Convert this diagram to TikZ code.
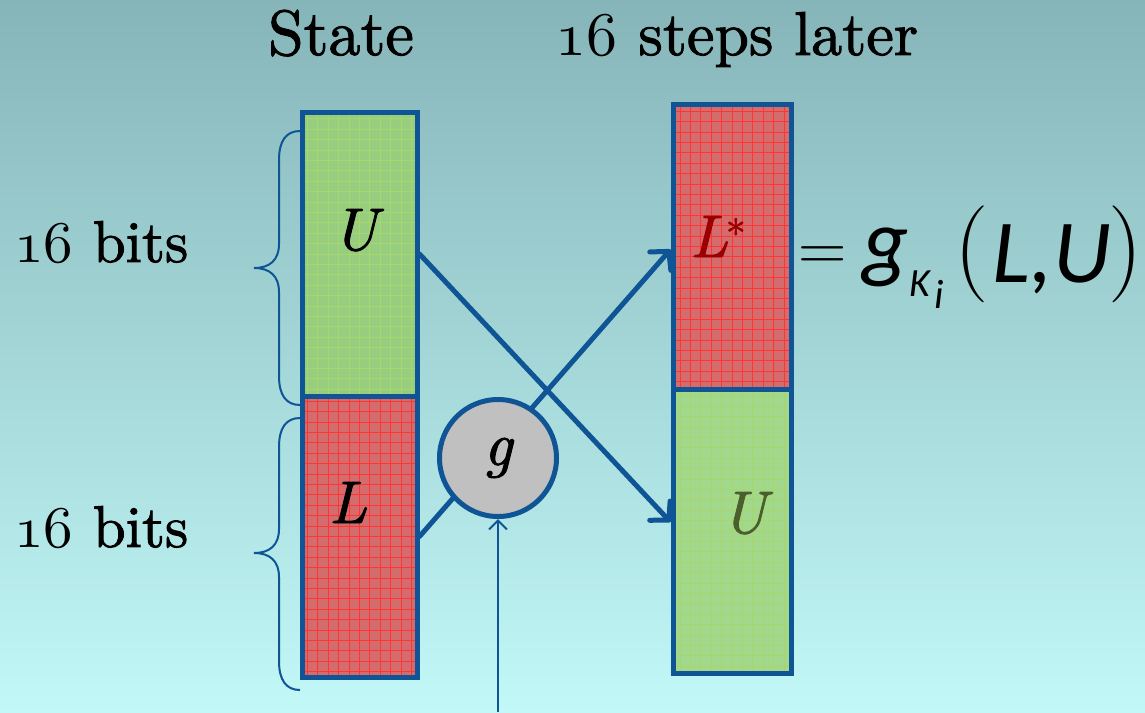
\documentclass[tikz,border=0pt]{standalone}
\usepackage{fontspec}
\newfontfamily\calib{Carlito}
\newfontfamily\headfont{lmroman10-regular}[Extension=.otf,
  ItalicFont=lmroman10-italic, FakeBold=1.5]
\usetikzlibrary{arrows.meta}

% scalable old-style figures taken from the math italic font
\DeclareFontFamily{OML}{osf}{\skewchar\font127 }
\DeclareFontShape{OML}{osf}{m}{it}{<->cmmi10}{}
\newcommand\osf[1]{{\usefont{OML}{osf}{m}{it}#1}}

\definecolor{bgtop}{HTML}{86B5B9}
\definecolor{bgbot}{HTML}{C2F8F7}
\definecolor{bblue}{HTML}{0F5596}
\definecolor{gfill}{HTML}{97CD7E}
\definecolor{gline}{HTML}{A8D66C}
\definecolor{gfillb}{HTML}{A2D88C}
\definecolor{rfill}{HTML}{D46C6E}
\definecolor{rline}{HTML}{FF3535}
\definecolor{lstar}{HTML}{9A0000}
\definecolor{uolive}{HTML}{4B5F2D}
\definecolor{ggray}{HTML}{C0C0C0}

\begin{document}
\begin{tikzpicture}[x=1pt,y=-1pt,
  big/.style={inner sep=0pt, font=\headfont\fontsize{62}{70}\selectfont},
  sym/.style={inner sep=0pt, font=\headfont\itshape\fontsize{60}{64}\selectfont},
  eqi/.style={inner sep=0pt, anchor=base west, font=\calib\itshape\fontsize{90}{96}\selectfont},
  eqr/.style={inner sep=0pt, anchor=base west, font=\rmfamily\fontsize{97}{100}\selectfont},
  bar/.style={draw=bblue, line width=5pt, inner sep=0pt, minimum width=115pt},
  greencell/.style={bar, fill=gfill, path picture={
      \draw[gline, line width=0.9pt] (path picture bounding box.south west)
        grid[step=10.4pt] (path picture bounding box.north east);}},
  redcell/.style={bar, fill=rfill, path picture={
      \draw[rline, line width=0.9pt] (path picture bounding box.south west)
        grid[step=10.4pt] (path picture bounding box.north east);}},
  thick arrow/.style={bblue, line width=5pt, line cap=round,
      -{Straight Barb[length=13pt, width=28pt, round]}},
  thin arrow/.style={bblue, line width=2pt,
      -{Straight Barb[length=9pt, width=18pt]}},
  curly/.style={bblue, line width=2pt},
]
% background
\shade[top color=bgtop, bottom color=bgbot] (0,0) rectangle (1145,712);
\useasboundingbox (0,0) rectangle (1145,712);

% column headings
\node[big, anchor=base, font=\headfont\fontsize{64}{70}\selectfont] (state) at (341,55) {State};
\node[big, anchor=base] (later) at (737,55) {\osf{16} steps later};

% size labels
\node[big, anchor=base west, font=\headfont\fontsize{59}{64}\selectfont] (bitsU) at (14,262) {\osf{16} bits};
\node[big, anchor=base west, font=\headfont\fontsize{59}{64}\selectfont] (bitsL) at (14,547) {\osf{16} bits};

% braces
\draw[curly] (300,131) .. controls (286,131) and (279,141) .. (279,160)
  -- (279,244) .. controls (279,260) and (270,268) .. (254,268)
  .. controls (270,268) and (279,276) .. (279,292)
  -- (279,376) .. controls (279,395) and (286,405) .. (300,405);
\draw[curly] (300,418) .. controls (286,418) and (279,428) .. (279,447)
  -- (279,529) .. controls (279,545) and (270,553) .. (254,553)
  .. controls (270,553) and (279,561) .. (279,577)
  -- (279,661) .. controls (279,680) and (286,690) .. (300,690);

% state register
\node[greencell, minimum height=284pt] (lu) at (359.5,254) {};
\node[redcell, minimum height=281pt] (ll) at (359.5,536.5) {};
% register after 16 steps
\node[redcell, minimum width=118pt, minimum height=285pt] (rl) at (732,246.5) {};
\node[greencell, fill=gfillb, minimum width=118pt, minimum height=284pt] (ru) at (732,531) {};

% half names
\node[sym, anchor=base] (tU) at (355,250) {U};
\node[sym, anchor=base] (tL) at (348,523) {L};
\node[sym, anchor=base west, text=lstar] (tLs) at (690,257)
  {L\kern-2pt\raisebox{9pt}{\fontsize{40}{40}\selectfont\upshape *}};
\node[sym, anchor=base, text=uolive] (tUr) at (744,533) {U};

% data flow
\draw[thick arrow] (lu.east) -- ([yshift=9pt]ru.west);
\draw[thick arrow] (ll.east) -- ([yshift=-3pt]rl.west);

% round function
\node[circle, draw=bblue, line width=5pt, fill=ggray, minimum size=117pt,
      inner sep=0pt, font=\headfont\itshape\fontsize{62}{64}\selectfont] (g) at (498,458) {g};
\coordinate (key) at (498,712);
\draw[thin arrow] (key) -- (g.south);

% formula  L* = g_{K_i}(L,U)
\node[inner sep=0pt, anchor=base west, font=\rmfamily\fontsize{67}{70}\selectfont] (eq) at (798,270) {=};
\node[eqi] (gk) at (862,271) {g};
\node[inner sep=0pt, anchor=base west, font=\calib\itshape\fontsize{40}{42}\selectfont] (kk) at (909,296) {K};
\node[inner sep=0pt, anchor=base west, font=\calib\itshape\fontsize{41}{42}\selectfont] (ii) at (934,308) {i};
\node[eqr] (lp) at (954,278) {(};
\node[eqi] (args) at (992,282) {L,U};
\node[eqr] (rp) at (1108,278) {)};
\end{tikzpicture}
\end{document}
